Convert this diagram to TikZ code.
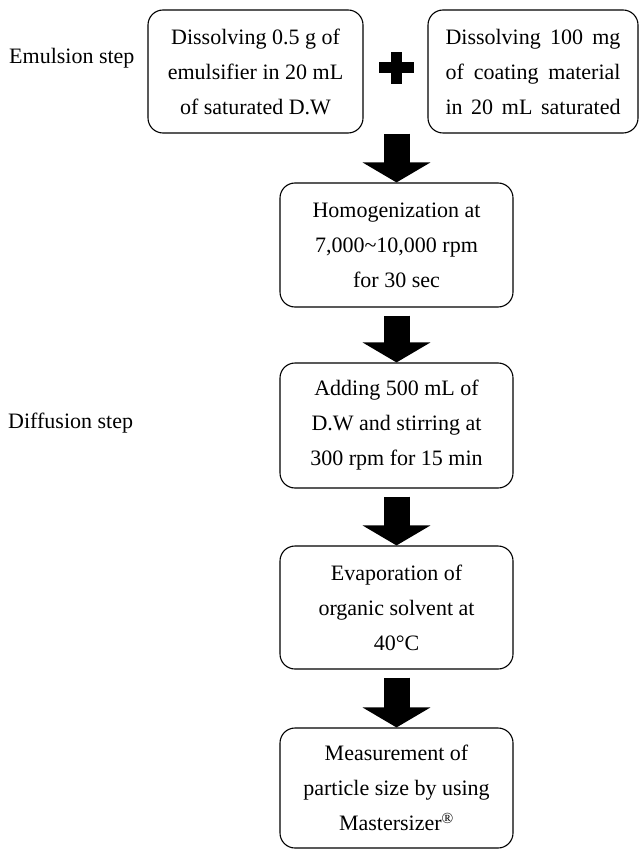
\documentclass[tikz,border=0pt]{standalone}
\usepackage{fontspec}
\setmainfont{Liberation Serif}
\usepackage{tikz}
\usetikzlibrary{calc, arrows.meta, positioning}

\tikzset{
  stage/.style={draw, line width=1.1pt, rounded corners=15pt, minimum height=123pt,
    inner sep=0pt, align=center, font=\fontsize{22}{35}\selectfont},
  steplabel/.style={anchor=west, inner sep=0pt, font=\fontsize{22}{26}\selectfont},
  blockarrow/.style={line width=26pt, -{Triangle[width=67pt, length=20pt]}}
}

\begin{document}
\begin{tikzpicture}[x=1pt, y=-1pt]
    \useasboundingbox (0,0) rectangle (639,850);
    \node[steplabel] (emul) at (9,58) {Emulsion step};
    \node[steplabel] (diff) at (8,423) {Diffusion step};
    \node[stage, minimum width=215pt] (dissolveA) at (255.5,71.5)
      {Dissolving 0.5 g of\\ emulsifier in 20 mL\\ of saturated D.W};
    \node[stage, minimum width=210pt, align=left] (dissolveB) at (533,71.5)
      {\makebox[175pt][s]{Dissolving 100 mg}\\ \makebox[175pt][s]{of coating material}\\ \makebox[175pt][s]{in 20 mL saturated}};
    \coordinate (plus) at (396.5,68);
    \fill ([xshift=-17.5pt, yshift=-5.5pt]plus) rectangle ([xshift=17.5pt, yshift=5.5pt]plus);
    \fill ([xshift=-5.5pt, yshift=-16pt]plus) rectangle ([xshift=5.5pt, yshift=16pt]plus);
    \node[stage, minimum width=233pt, minimum height=124pt] (homog) at (396.5,245)
      {Homogenization at\\ 7,000\textasciitilde10,000 rpm\\ for 30 sec};
    \node[stage, minimum width=233pt, minimum height=125pt] (adding) at (396.5,425.5)
      {Adding 500 mL of\\ D.W and stirring at\\ 300 rpm for 15 min};
    \node[stage, minimum width=233pt] (evap) at (396.5,607.5)
      {Evaporation of\\ organic solvent at\\ 40°C};
    \node[stage, minimum width=233pt, minimum height=120pt] (measure) at (396.5,788)
      {Measurement of\\ particle size by using\\ Mastersizer\textsuperscript{®}};
    \coordinate (join) at (plus |- dissolveA.south);
    \draw[blockarrow] (join) -- (homog.north);
    \draw[blockarrow, shorten <=8pt] (homog.south) -- (adding.north);
    \draw[blockarrow, shorten <=8pt] (adding.south) -- (evap.north);
    \draw[blockarrow, shorten <=8pt] (evap.south) -- (measure.north);
  \end{tikzpicture}
\end{document}
